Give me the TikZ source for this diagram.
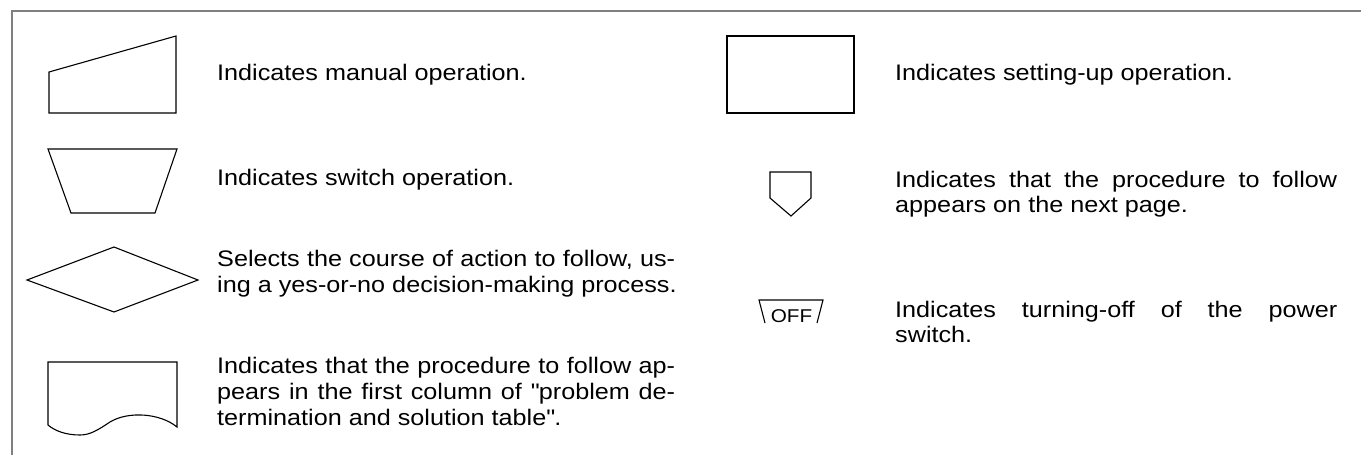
\documentclass[tikz,border=0pt]{standalone}
\usepackage{fontspec}
\setmainfont{Liberation Sans}[FakeStretch=1.12]
\newlength\lw
\newcommand\jline[1]{\hbox to \lw{#1}}
\newcommand\lastline[1]{\hbox{#1}}
\tikzset{
  shp/.style={draw=black, line width=1.1pt, line join=miter},
  frm/.style={draw=black!50, line width=2pt},
  txt/.style={anchor=base west, inner sep=0pt, font=\fontsize{22.5}{26}\selectfont},
}
\begin{document}
\begin{tikzpicture}[x=1pt,y=-1pt]
\useasboundingbox (0,0) rectangle (1361,455);
% frame
\draw[frm] (1361,11) -- (12,11) -- (12,455);
% left column shapes
\draw[shp] (49,72) -- (176,36) -- (176,113) -- (49,113) -- cycle;
\draw[shp] (48,149) -- (177,149) -- (155,213) -- (71,213) -- cycle;
\draw[shp] (114,247) -- (198,280) -- (114,312) -- (27,280) -- cycle;
\draw[shp] (48,425) -- (48,362) -- (177,362) -- (177,427)
  .. controls (160,413) and (128,411) .. (110,422)
  .. controls (98,430) and (90,435) .. (80,435)
  .. controls (66,435) and (55,431) .. (48,425);
% right column shapes
\draw[shp] (727,36) rectangle (854,113);
\draw[shp] (770,172) -- (811,172) -- (811,198) -- (791,216) -- (770,198) -- cycle;
\draw[shp] (765,323) -- (759,300) -- (823,300) -- (817,323);
\node[inner sep=0pt, anchor=base, font=\fontsize{18.5}{20}\selectfont] (off) at (791.5,322) {OFF};
% texts left
\setlength\lw{458pt}
\node[txt] (t1) at (217,80) {Indicates manual operation.};
\node[txt] (t2) at (217,185) {Indicates switch operation.};
\node[txt] (t3) at (217,266) {\vtop{\baselineskip=26pt
  \jline{Selects the course of action to follow, us-}
  \lastline{ing a yes-or-no decision-making process.}}};
\node[txt] (t4) at (217,373) {\vtop{\baselineskip=26pt
  \jline{Indicates that the procedure to follow ap-}
  \jline{pears in the first column of \textquotedbl problem de-}
  \lastline{termination and solution table\textquotedbl.}}};
% texts right
\node[txt] (t5) at (895,80) {Indicates setting-up operation.};
\node[txt] (t6) at (895,187) {\vtop{\baselineskip=25pt
  \hbox to 442pt{Indicates that the procedure to follow}
  \lastline{appears on the next page.}}};
\node[txt] (t7) at (895,317) {\vtop{\baselineskip=25pt
  \hbox to 442pt{Indicates turning-off of the power}
  \lastline{switch.}}};
\end{tikzpicture}
\end{document}
